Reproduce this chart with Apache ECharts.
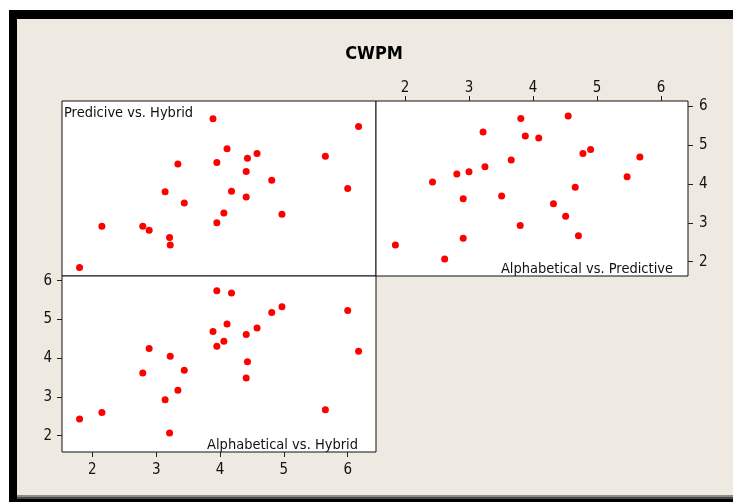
<!DOCTYPE html>
<html>
<head>
<meta charset="utf-8">
<script src="https://cdn.jsdelivr.net/npm/echarts@6/dist/echarts.min.js"></script>
<style>
  html, body { margin:0; padding:0; background:#ffffff; }
  #wrap { position:relative; width:733px; height:502px; overflow:hidden; background:#ffffff; }
  #frame { position:absolute; left:9px; top:10px; width:724px; height:492px; background:#000; }
  #inner { position:absolute; left:17px; top:19px; width:716px; height:476px; background:#EEEAE1; }
  #g1 { position:absolute; left:17px; top:495px; width:716px; height:2px; background:#8c8c8c; }
  #g2 { position:absolute; left:17px; top:497px; width:716px; height:2px; background:#4a4a4a; }
  #chart { position:absolute; left:0; top:0; width:733px; height:502px; }
</style>
</head>
<body>
<div id="wrap">
  <div id="frame"></div>
  <div id="inner"></div>
  <div id="g1"></div>
  <div id="g2"></div>
  <div id="chart"></div>
</div>
<script>
// Data (one entry per observation)
const hybrid       = [1.80, 2.15, 2.79, 2.89, 3.14, 3.21, 3.22, 3.34, 3.44, 3.89, 3.95, 3.95, 4.06, 4.11, 4.18, 4.41, 4.41, 4.43, 4.58, 4.81, 4.97, 5.65, 6.00, 6.17];
const predictive   = [1.85, 2.91, 2.91, 2.81, 3.80, 2.62, 2.43, 4.51, 3.51, 5.67, 4.55, 3.00, 3.25, 4.90, 3.81, 3.66, 4.32, 4.66, 4.78, 4.09, 3.22, 4.71, 3.88, 5.47];
const alphabetical = [2.43, 2.60, 3.62, 4.25, 2.93, 2.07, 4.05, 3.17, 3.69, 4.69, 5.74, 4.31, 4.44, 4.88, 5.68, 4.61, 3.49, 3.91, 4.78, 5.18, 5.33, 2.67, 5.23, 4.18];
const tickValues = [2, 3, 4, 5, 6];
const chartTitle = 'CWPM';
const panelLabels = ['Predicive vs. Hybrid', 'Alphabetical vs. Predictive', 'Alphabetical vs. Hybrid'];

const zip = (a, b) => a.map((v, i) => [v, b[i]]);

const FONT = '"DejaVu Sans Condensed", "DejaVu Sans", sans-serif';
const labelStyle = { fontFamily: FONT, fontSize: 15, color: '#111' };

function hiddenAxis(min, max) {
  return { type: 'value', min, max, show: true,
    axisLine: { show: false }, axisTick: { show: false }, axisLabel: { show: false }, splitLine: { show: false } };
}
function shownAxis(min, max, position, margin) {
  return { type: 'value', min, max, position,
    axisLine: { show: false },
    axisTick: { show: true, inside: false, length: 5, customValues: tickValues, lineStyle: { color: '#222', width: 1 } },
    axisLabel: Object.assign({ show: true, margin, customValues: tickValues, formatter: v => String(v) }, labelStyle),
    splitLine: { show: false } };
}

const gridStyle = { show: true, backgroundColor: '#ffffff', borderColor: '#111111', borderWidth: 1, containLabel: false };

const option = {
  animation: false,
  backgroundColor: 'transparent',
  title: [
    { text: chartTitle, left: 374, top: 44, textAlign: 'center', padding: 0,
      textStyle: { fontFamily: '"DejaVu Sans Condensed", "DejaVu Sans", sans-serif', fontWeight: 'bold', fontSize: 18, lineHeight: 20, color: '#000' } },
    { text: panelLabels[0], left: 64, top: 105, padding: 0,
      textStyle: { fontFamily: FONT, fontWeight: 'normal', fontSize: 14.5, lineHeight: 16, color: '#111' } },
    { text: panelLabels[1], right: 60, top: 261, padding: 0,
      textStyle: { fontFamily: FONT, fontWeight: 'normal', fontSize: 14.5, lineHeight: 16, color: '#111' } },
    { text: panelLabels[2], right: 375, top: 437, padding: 0,
      textStyle: { fontFamily: FONT, fontWeight: 'normal', fontSize: 14.5, lineHeight: 16, color: '#111' } }
  ],
  grid: [
    Object.assign({ left: 62, top: 101, width: 314, height: 175 }, gridStyle),
    Object.assign({ left: 376, top: 101, width: 312, height: 175 }, gridStyle),
    Object.assign({ left: 62, top: 276, width: 314, height: 176 }, gridStyle)
  ],
  xAxis: [
    Object.assign(hiddenAxis(1.525, 6.443), { gridIndex: 0 }),
    Object.assign(shownAxis(1.547, 6.422, 'top', 5), { gridIndex: 1 }),
    Object.assign(shownAxis(1.525, 6.443, 'bottom', 11), { gridIndex: 2 })
  ],
  yAxis: [
    Object.assign(hiddenAxis(1.633, 6.128), { gridIndex: 0 }),
    Object.assign(shownAxis(1.633, 6.128, 'right', 11), { gridIndex: 1 }),
    Object.assign(shownAxis(1.579, 6.121, 'left', 10), { gridIndex: 2 })
  ],
  series: [
    { type: 'scatter', xAxisIndex: 0, yAxisIndex: 0, data: zip(hybrid, predictive) },
    { type: 'scatter', xAxisIndex: 1, yAxisIndex: 1, data: zip(predictive, alphabetical) },
    { type: 'scatter', xAxisIndex: 2, yAxisIndex: 2, data: zip(hybrid, alphabetical) }
  ].map(s => Object.assign(s, { symbol: 'circle', symbolSize: 7, itemStyle: { color: '#ff0000', opacity: 1 }, z: 3 }))
};

const chart = echarts.init(document.getElementById('chart'), null, { renderer: 'canvas' });
chart.setOption(option);
</script>
</body>
</html>
